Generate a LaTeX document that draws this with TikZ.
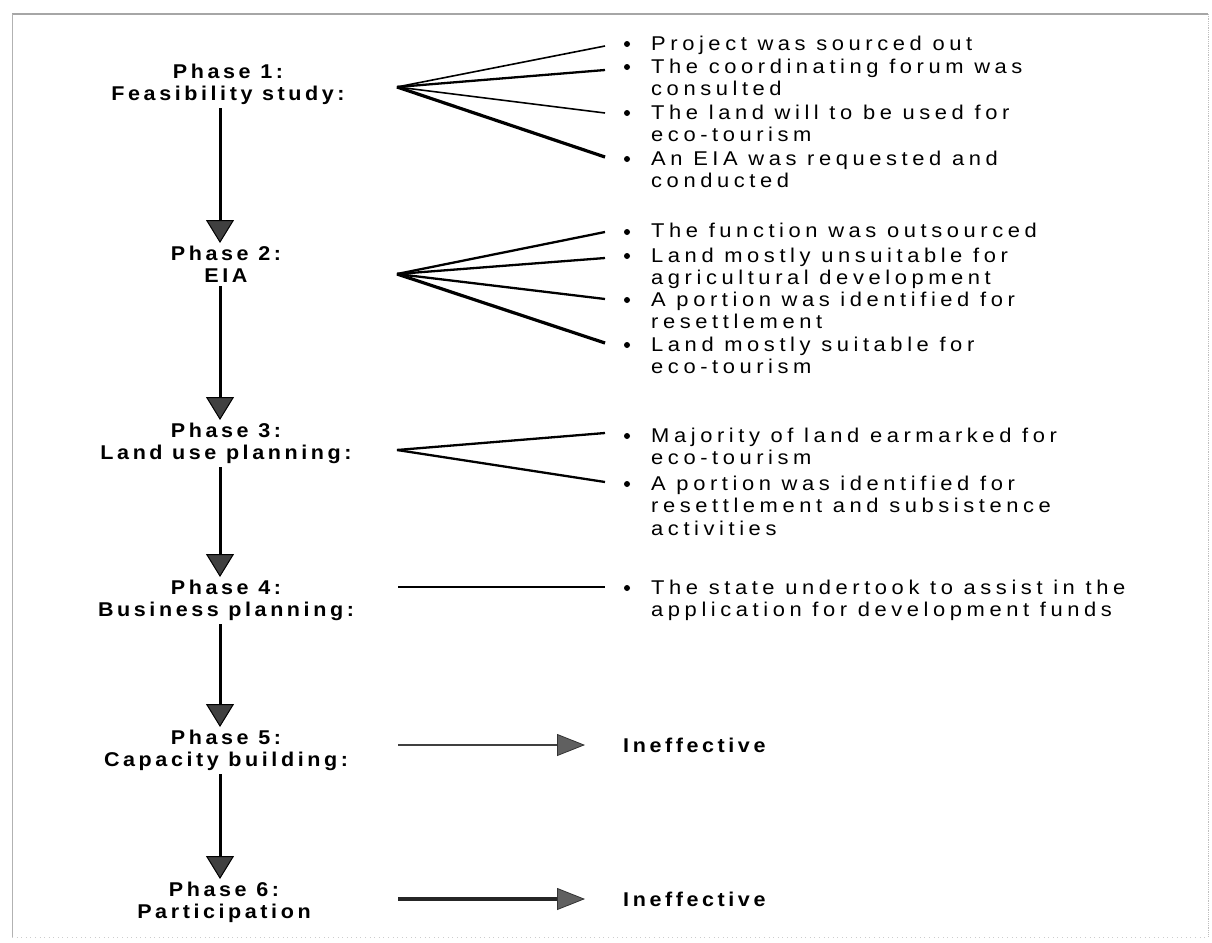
\documentclass[tikz,border=0pt]{standalone}
\usepackage{fontspec}
\setmainfont{Liberation Sans}
\newfontfamily\itemfont[LetterSpace=23,FakeStretch=1.1]{Liberation Sans}
\newfontfamily\labelfont[LetterSpace=18,FakeStretch=1.08]{Liberation Sans}
\usetikzlibrary{arrows.meta}

\begin{document}
\begin{tikzpicture}[x=1bp,y=-1bp,
  phase/.style={font=\labelfont\bfseries\fontsize{20}{21.5}\selectfont,
    align=center, inner sep=0pt, anchor=north},
  item/.style={font=\itemfont\fontsize{20}{22.8}\selectfont,
    align=left, inner sep=0pt, anchor=north west},
  result/.style={font=\labelfont\bfseries\fontsize{20}{21.5}\selectfont,
    inner sep=0pt, anchor=west},
  dot/.style={circle, fill=black, inner sep=0pt, minimum size=6bp},
  fanthin/.style={line width=1.6bp},
  fanmid/.style={line width=2.3bp},
  fanthick/.style={line width=3.2bp},
  varrow/.style={line width=3bp, shorten <=4bp, shorten >=3bp,
    -{Triangle[width=28bp,length=23bp,line width=1bp,fill=gray!50!black]}},
  harrow/.style={shorten >=38bp,
    -{Triangle[width=22bp,length=28bp,line width=0.8bp,fill=gray!75!black,color=gray!40!black]}},
]
\useasboundingbox (0,0) rectangle (1212,943);

% page frame
\draw[gray!70, line width=1.2bp] (12,14) -- (1208,14);
\draw[gray!60, line width=1bp] (12,14) -- (12,937);
\draw[gray!50, line width=0.8bp, densely dotted] (1208,14) -- (1208,937);
\draw[gray!40, line width=0.6bp, loosely dotted] (12,937) -- (1208,937);

% phase labels
\node[phase] (p1) at (228,64) {Phase 1:\\Feasibility study:};
\node[phase] (p2) at (226,246) {Phase 2:\\EIA};
\node[phase] (p3) at (226,423) {Phase 3:\\Land use planning:};
\node[phase] (p4) at (226,580) {Phase 4:\\Business planning:};
\node[phase] (p5) at (226,730) {Phase 5:\\Capacity building:};
\node[phase] (p6) at (224,882) {Phase 6:\\Participation};

% flow between phases, along one column
\coordinate (col) at (220,0);
\draw[varrow] (p1.south -| col) -- (p2.north -| col);
\draw[varrow] (p2.south -| col) -- (p3.north -| col);
\draw[varrow] (p3.south -| col) -- (p4.north -| col);
\draw[varrow] (p4.south -| col) -- (p5.north -| col);
\draw[varrow] (p5.south -| col) -- (p6.north -| col);

% fan origins and ends
\coordinate (f1) at (397,87);
\coordinate (f2) at (397,274);
\coordinate (f3) at (397,450);
\coordinate (f4) at (398,587);

\coordinate (e11) at (605,46);
\coordinate (e12) at (605,70);
\coordinate (e13) at (605,113);
\coordinate (e14) at (605,157);
\coordinate (e21) at (605,232);
\coordinate (e22) at (605,258);
\coordinate (e23) at (605,299);
\coordinate (e24) at (605,343);
\coordinate (e31) at (605,433);
\coordinate (e32) at (605,482);
\coordinate (e41) at (605,587);

\draw[fanthin]  (f1) -- (e11);
\draw[fanmid]   (f1) -- (e12);
\draw[fanthin]  (f1) -- (e13);
\draw[fanthick] (f1) -- (e14);
\draw[fanmid]   (f2) -- (e21);
\draw[fanmid]   (f2) -- (e22);
\draw[fanmid]   (f2) -- (e23);
\draw[fanthick] (f2) -- (e24);
\draw[fanmid]   (f3) -- (e31);
\draw[fanmid]   (f3) -- (e32);
\draw[fanthin]  (f4) -- (e41);

% bullets
\foreach \n/\y in {b11/44,b12/67,b13/113,b14/159,
                   b21/232,b22/256,b23/300,b24/345,
                   b31/436,b32/484,b41/588}
  \node[dot] (\n) at (627,\y) {};

% bullet texts
\node[item] (t11) at (651,35.5) {Project was sourced out};
\node[item] (t12) at (651,58.5) {The coordinating forum was\\consulted};
\node[item] (t13) at (651,104.5) {The land will to be used for\\eco-tourism};
\node[item] (t14) at (651,150.5) {An EIA was requested and\\conducted};
\node[item] (t21) at (651,223) {The function was outsourced};
\node[item] (t22) at (651,247.5) {Land mostly unsuitable for\\agricultural development};
\node[item] (t23) at (651,291.5) {A portion was identified for\\resettlement};
\node[item] (t24) at (651,336.5) {Land mostly suitable for\\eco-tourism};
\node[item] (t31) at (651,427.5) {Majority of land earmarked for\\eco-tourism};
\node[item] (t32) at (651,475.5) {A portion was identified for\\resettlement and subsistence\\activities};
\node[item] (t41) at (651,579.5) {The state undertook to assist in the\\application for development funds};

% outcomes of the last two phases
\node[result] (i5) at (623,745) {Ineffective};
\node[result] (i6) at (623,899) {Ineffective};
\coordinate (h5) at (398,745);
\coordinate (h6) at (398,899);
\draw[harrow, line width=2bp, draw=gray!50!black] (h5) -- (i5.west);
\draw[harrow, line width=4bp, draw=black!85] (h6) -- (i6.west);
\end{tikzpicture}
\end{document}
